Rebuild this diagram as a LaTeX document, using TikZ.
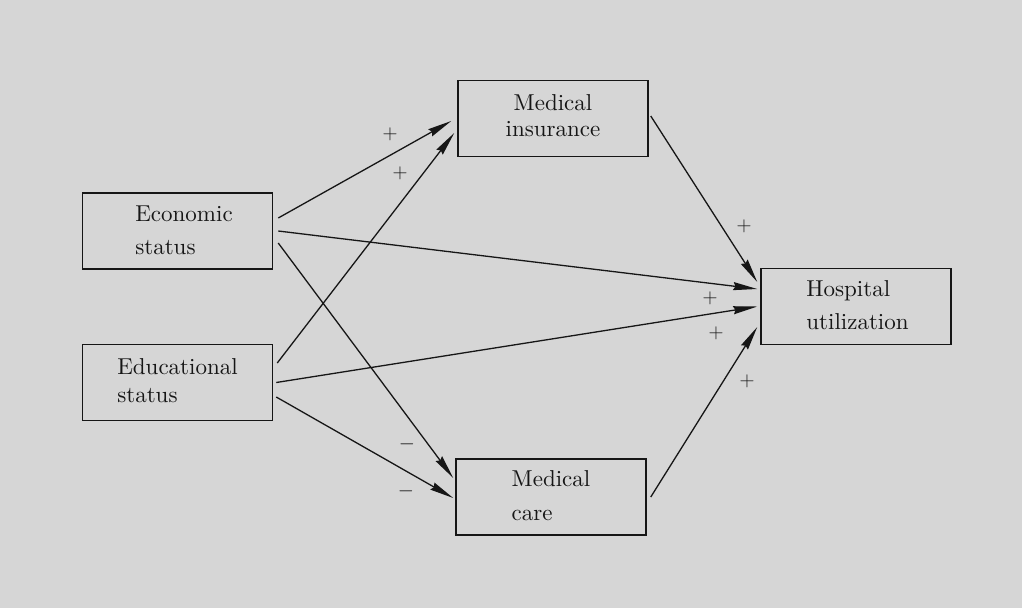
\documentclass[tikz,border=0pt]{standalone}
\usetikzlibrary{arrows.meta}
\definecolor{paper}{RGB}{214,214,214}
\definecolor{ink}{RGB}{22,22,22}
\newcommand\bxt[3]{\scalebox{2.3}{\fontsize{10}{#1}\selectfont\begin{tabular}{@{}#2@{}}#3\end{tabular}}}
\begin{document}
\begin{tikzpicture}[x=1pt,y=-1pt,
  box/.style={draw=ink,line width=1.5pt,minimum width=190pt,minimum height=76pt,inner sep=0pt,text=ink},
  link/.style={draw=ink,line width=1.3pt,-{Stealth[length=24pt,width=8pt,inset=2pt]}},
  sign/.style={text=ink,font=\fontsize{21}{21}\selectfont,inner sep=0pt}]
\fill[paper] (0,0) rectangle (1022,608);
\useasboundingbox (0,0) rectangle (1022,608);

\node[box] (econ) at (177.5,231) {\hspace*{13pt}\bxt{14.3}{l}{Economic\\status}};
\node[box] (educ) at (177.5,382.5) {\bxt{12.2}{l}{Educational\\status}};
\node[box] (medins) at (553,118.5) {\bxt{11.3}{c}{Medical\\insurance}};
\node[box] (medcare) at (551,497) {\bxt{14.8}{l}{Medical\\care}};
\node[box] (hosp) at (856,306.5) {\hspace*{3pt}\bxt{14.3}{l}{Hospital\\utilization}};

\draw[link] ([xshift=5pt,yshift=13pt]econ.east) -- ([xshift=-6pt,yshift=-2.5pt]medins.west);
\draw[link] ([xshift=4pt,yshift=19.5pt]educ.east) -- ([xshift=-3pt,yshift=-14.5pt]medins.west);
\draw[link] ([xshift=5pt]econ.east) -- ([xshift=-3pt,yshift=17.5pt]hosp.west);
\draw[link] ([xshift=5pt,yshift=-12pt]econ.east) -- ([xshift=-2pt,yshift=19pt]medcare.west);
\draw[link] ([xshift=3pt]educ.east) -- ([xshift=-3pt]hosp.west);
\draw[link] ([xshift=3pt,yshift=-14.5pt]educ.east) -- ([xshift=-2pt,yshift=-1pt]medcare.west);
\draw[link] ([xshift=2pt,yshift=2.5pt]medins.east) -- ([xshift=-3pt,yshift=24.5pt]hosp.west);
\draw[link] ([xshift=4pt]medcare.east) -- ([xshift=-3pt,yshift=-20.5pt]hosp.west);

\node[sign] (p1) at (390,134) {$+$};
\node[sign] (p2) at (400,173) {$+$};
\node[sign] (p3) at (744,226) {$+$};
\node[sign] (p4) at (710,298) {$+$};
\node[sign] (p5) at (716,333) {$+$};
\node[sign] (p6) at (747,381) {$+$};
\node[sign] (m1) at (407,444) {$-$};
\node[sign] (m2) at (406,491) {$-$};
\end{tikzpicture}
\end{document}
